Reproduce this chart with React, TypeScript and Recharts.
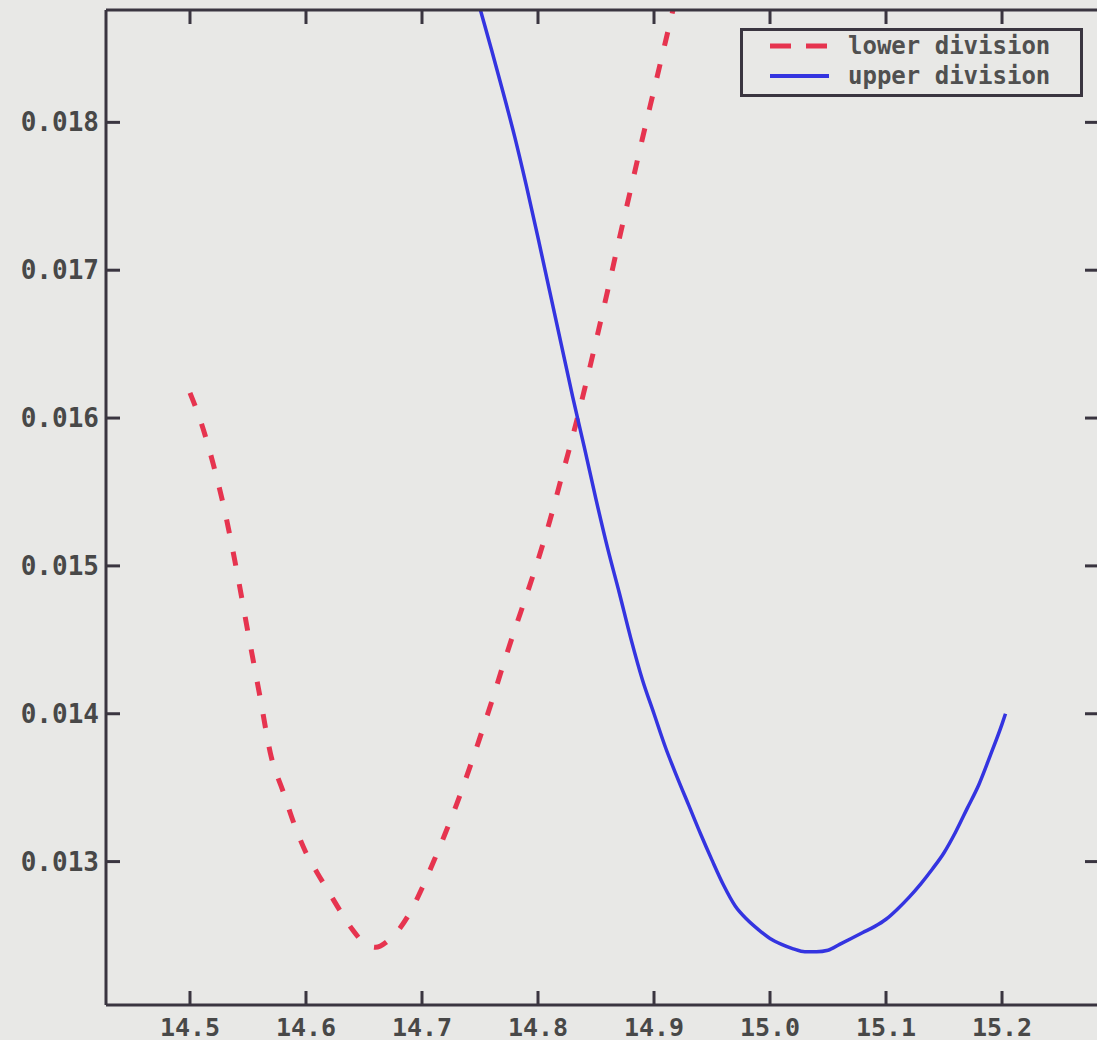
import { Line, LineChart, XAxis, YAxis } from "recharts"

// lower division (red dashed)
const lowerX = [
  14.5, 14.51, 14.52, 14.53, 14.54, 14.55, 14.56, 14.57, 14.58, 14.59, 14.6, 14.61, 14.62, 14.63, 14.64,
  14.65, 14.66, 14.67, 14.68, 14.69, 14.7, 14.71, 14.72, 14.73, 14.74, 14.75, 14.76, 14.77, 14.78, 14.79,
  14.8, 14.81, 14.82, 14.83, 14.84, 14.85, 14.86, 14.87, 14.88, 14.89, 14.9, 14.91, 14.92, 14.93,
]
const lowerY = [
  0.01617, 0.01596, 0.01569, 0.01537, 0.01498, 0.01455, 0.01413, 0.01371, 0.01348, 0.01325, 0.01306,
  0.01292, 0.01279, 0.01266, 0.01254, 0.01245, 0.01242, 0.01246, 0.01254, 0.01266, 0.01282, 0.013,
  0.01319, 0.01339, 0.01361, 0.01384, 0.01408, 0.01433, 0.01457, 0.0148, 0.01504, 0.0153, 0.01559,
  0.01588, 0.01619, 0.01652, 0.01686, 0.01721, 0.01755, 0.01789, 0.01822, 0.01855, 0.01888, 0.0192,
]

// upper division (blue solid)
const upperX = [
  14.74, 14.75, 14.76, 14.77, 14.78, 14.79, 14.8, 14.81, 14.82, 14.83, 14.84, 14.85, 14.86, 14.87, 14.88,
  14.89, 14.9, 14.91, 14.92, 14.93, 14.94, 14.95, 14.96, 14.97, 14.98, 14.99, 15.0, 15.01, 15.02, 15.03,
  15.04, 15.05, 15.06, 15.07, 15.08, 15.09, 15.1, 15.11, 15.12, 15.13, 15.14, 15.15, 15.16, 15.17, 15.18,
  15.19, 15.2, 15.203,
]
const upperY = [
  0.01905, 0.01877, 0.01849, 0.0182, 0.0179, 0.01757, 0.01722, 0.01686, 0.0165, 0.01614, 0.0158, 0.01545,
  0.01512, 0.01482, 0.01451, 0.01423, 0.014, 0.01377, 0.01357, 0.01338, 0.01319, 0.01301, 0.01284, 0.0127,
  0.01261, 0.01254, 0.01248, 0.01244, 0.01241, 0.01239, 0.01239, 0.0124, 0.01244, 0.01248, 0.01252,
  0.01256, 0.01261, 0.01268, 0.01276, 0.01285, 0.01295, 0.01306, 0.0132, 0.01336, 0.01352, 0.01372,
  0.01393, 0.014,
]

const xTicks = [14.5, 14.6, 14.7, 14.8, 14.9, 15.0, 15.1, 15.2]
const yTicks = [0.013, 0.014, 0.015, 0.016, 0.017, 0.018]
const seriesNames = ["lower division", "upper division"]

const lowerData = lowerX.map((x, i) => ({ x, y: lowerY[i] }))
const upperData = upperX.map((x, i) => ({ x, y: upperY[i] }))

const BG = "#e8e8e6"
const FRAME = "#3a3540"
const RED = "#e6344f"
const BLUE = "#3434e0"
const TICK_LEN = 14
const font = "'DejaVu Sans Mono', monospace"
const xDomain = [14.4276, 15.2836]
const yDomain = [0.01203, 0.01876]

const BottomTick = ({ x, y, payload }: any) => (
  <g>
    <line x1={x} y1={y} x2={x} y2={y - TICK_LEN} stroke={FRAME} strokeWidth={3} />
    <text x={x} y={y + 22} textAnchor="middle" dominantBaseline="central" fill="#484848"
      fontFamily={font} fontSize={25} fontWeight={700}>
      {Number(payload.value).toFixed(1)}
    </text>
  </g>
)

const TopTick = ({ x, y }: any) => (
  <line x1={x} y1={y} x2={x} y2={y + TICK_LEN} stroke={FRAME} strokeWidth={3} />
)

const LeftTick = ({ x, y, payload }: any) => (
  <g>
    <line x1={x} y1={y} x2={x + TICK_LEN} y2={y} stroke={FRAME} strokeWidth={3} />
    <text x={x - 7} y={y} textAnchor="end" dominantBaseline="central" fill="#484848"
      fontFamily={font} fontSize={26} fontWeight={700}>
      {Number(payload.value).toFixed(3)}
    </text>
  </g>
)

const RightTick = ({ x, y }: any) => (
  <line x1={x} y1={y} x2={x - TICK_LEN} y2={y} stroke={FRAME} strokeWidth={3} />
)

function LegendBox() {
  return (
    <div
      style={{
        position: "absolute",
        left: 740,
        top: 28,
        width: 343,
        height: 69,
        boxSizing: "border-box",
        border: `3px solid ${FRAME}`,
        background: BG,
      }}
    >
      {seriesNames.map((name, i) => (
        <div key={name} style={{ display: "flex", alignItems: "center", height: 30 }}>
          <svg width={105} height={30}>
            <line
              x1={27}
              x2={86}
              y1={15}
              y2={15}
              stroke={i === 0 ? RED : BLUE}
              strokeWidth={i === 0 ? 5 : 4}
              strokeDasharray={i === 0 ? "21 15" : undefined}
            />
          </svg>
          <span style={{ fontFamily: font, fontSize: 24, color: "#505050", fontWeight: 700 }}>{name}</span>
        </div>
      ))}
    </div>
  )
}

export default function App() {
  return (
    <div style={{ position: "absolute", left: 0, top: 0, width: 1097, height: 1040, background: BG, overflow: "hidden" }}>
      <LineChart width={1097} height={1040} margin={{ top: 9, right: -3, bottom: 0, left: 0 }}>
        <XAxis
          xAxisId="b"
          type="number"
          dataKey="x"
          domain={xDomain}
          allowDataOverflow
          ticks={xTicks}
          interval={0}
          height={35}
          tickSize={0}
          tickMargin={0}
          tickLine={false}
          axisLine={{ stroke: FRAME, strokeWidth: 3 }}
          tick={<BottomTick />}
        />
        <XAxis
          xAxisId="t"
          orientation="top"
          type="number"
          dataKey="x"
          domain={xDomain}
          allowDataOverflow
          ticks={xTicks}
          interval={0}
          height={1}
          tickSize={0}
          tickMargin={0}
          tickLine={false}
          axisLine={{ stroke: FRAME, strokeWidth: 3 }}
          tick={<TopTick />}
        />
        <YAxis
          yAxisId="l"
          type="number"
          domain={yDomain}
          allowDataOverflow
          ticks={yTicks}
          interval={0}
          width={106}
          tickSize={0}
          tickMargin={0}
          tickLine={false}
          axisLine={{ stroke: FRAME, strokeWidth: 3 }}
          tick={<LeftTick />}
        />
        <YAxis
          yAxisId="r"
          orientation="right"
          type="number"
          domain={yDomain}
          allowDataOverflow
          ticks={yTicks}
          interval={0}
          width={1}
          tickSize={0}
          tickMargin={0}
          tickLine={false}
          axisLine={{ stroke: FRAME, strokeWidth: 3 }}
          tick={<RightTick />}
        />
        <Line
          xAxisId="b"
          yAxisId="l"
          data={lowerData}
          dataKey="y"
          name={seriesNames[0]}
          type="monotone"
          stroke={RED}
          strokeWidth={5}
          strokeDasharray="14 19"
          dot={false}
          isAnimationActive={false}
        />
        <Line
          xAxisId="b"
          yAxisId="l"
          data={upperData}
          dataKey="y"
          name={seriesNames[1]}
          type="monotone"
          stroke={BLUE}
          strokeWidth={3.5}
          dot={false}
          isAnimationActive={false}
        />
      </LineChart>
      <LegendBox />
    </div>
  )
}
